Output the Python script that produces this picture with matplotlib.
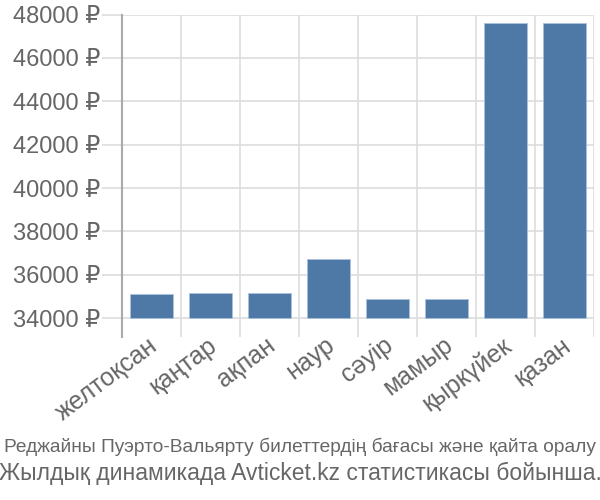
import matplotlib
matplotlib.use("Agg")
import matplotlib.pyplot as plt
from matplotlib.transforms import ScaledTranslation

plt.rcParams['font.family'] = ['Liberation Sans', 'DejaVu Sans']

categories = ["желтоқсан", "қаңтар", "ақпан", "наур", "сәуір", "мамыр", "қыркүйек", "қазан"]
values = [35100, 35170, 35170, 36720, 34890, 34890, 47600, 47600]
yticks = [34000, 36000, 38000, 40000, 42000, 44000, 46000, 48000]
ytick_labels = [f"{v} ₽" for v in yticks]
caption1 = "Реджайны Пуэрто-Вальярту билеттердің бағасы және қайта оралу"
caption2 = "Жылдық динамикада Avticket.kz статистикасы бойынша."

fig = plt.figure(figsize=(6, 5), dpi=100)
ax = fig.add_axes([122/600, 1-337/500, (594-122)/600, (337-14.5)/500])

base = 34000
x = list(range(len(categories)))
ax.bar(x, [v - base for v in values], bottom=base, width=0.72, color="#4e79a7",
       edgecolor="#a9c1dc", linewidth=0.6, zorder=3)

ax.set_xlim(-0.5, len(categories) - 0.5)
ax.set_ylim(33130, 48000)
ax.set_yticks(yticks)
ax.set_yticklabels(ytick_labels, fontsize=17, color="#666666")
ax.set_xticks(x)
ax.set_xticklabels(categories, rotation=37, ha="right", rotation_mode="anchor",
                   fontsize=18, color="#666666")
ax.tick_params(axis="x", length=0, pad=0)
ax.tick_params(axis="y", length=14.4, color="#dddddd", width=1.2, pad=1.5)
off = ScaledTranslation(-4/100, 4/100, fig.dpi_scale_trans)
for lab in ax.get_xticklabels():
    lab.set_transform(lab.get_transform() + off)

for yv in yticks:
    ax.axhline(yv, color="#dddddd", lw=1.2, zorder=1)
for xv in [i + 0.5 for i in range(len(categories))]:
    ax.axvline(xv, color="#dddddd", lw=1.2, zorder=1)

for s in ["top", "right", "bottom"]:
    ax.spines[s].set_visible(False)
ax.spines["left"].set_color("#aaaaaa")
ax.spines["left"].set_linewidth(1.5)

fig.text(300/600, 1-447/500, caption1, ha="center", va="center", fontsize=13.8,
         color="#666666")
fig.text(300/600, 1-473/500, caption2, ha="center", va="center", fontsize=16.5, color="#666666")

fig.savefig("out.png", dpi=100)
